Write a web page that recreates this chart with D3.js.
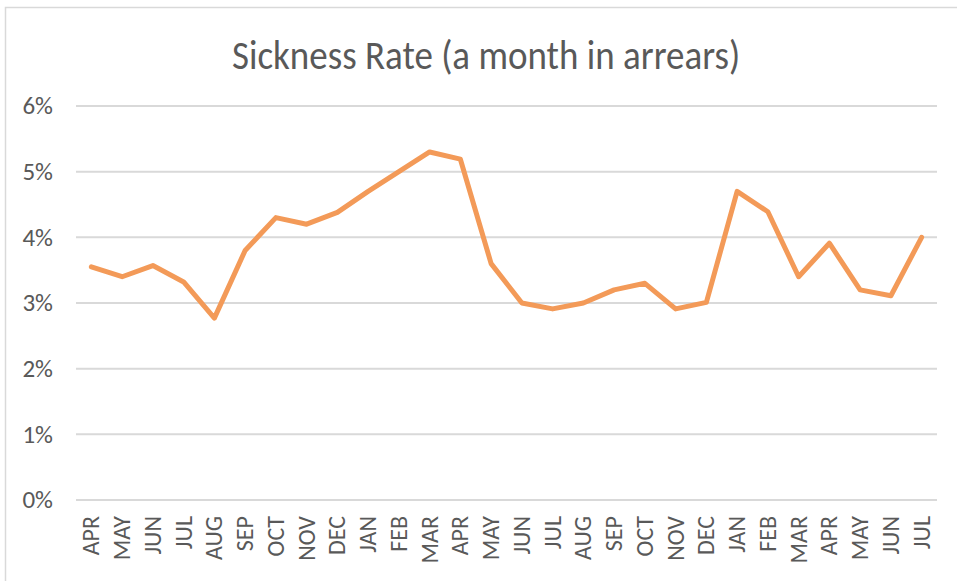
<!DOCTYPE html>
<html>
<head>
<meta charset="utf-8">
<script src="https://cdn.jsdelivr.net/npm/d3@7"></script>
<style>
  body { margin: 0; background: #fff; }
  text { font-family: Calibri, Carlito, "Open Sans", sans-serif; fill: #595959; }
</style>
</head>
<body>
<div id="chart"></div>
<script>
// data
var months = ["APR", "MAY", "JUN", "JUL", "AUG", "SEP", "OCT", "NOV", "DEC", "JAN", "FEB", "MAR", "APR", "MAY",
  "JUN", "JUL", "AUG", "SEP", "OCT", "NOV", "DEC", "JAN", "FEB", "MAR", "APR", "MAY", "JUN", "JUL"];
var rates = [3.55, 3.40, 3.57, 3.32, 2.77, 3.80, 4.30, 4.20, 4.38, 4.70, 5.00, 5.30, 5.19, 3.60,
  3.00, 2.91, 3.00, 3.20, 3.30, 2.91, 3.01, 4.70, 4.39, 3.40, 3.91, 3.20, 3.11, 4.00];
var yTicks = [0, 1, 2, 3, 4, 5, 6];

var width = 957, height = 581;
var margin = { top: 106, right: 20, bottom: 81, left: 76 };

var svg = d3.select("#chart").append("svg")
  .attr("width", width)
  .attr("height", height);

// chart border (only left / top visible in the picture)
svg.append("rect")
  .attr("x", 5.5).attr("y", 7.5)
  .attr("width", 1000).attr("height", 1000)
  .attr("fill", "none")
  .attr("stroke", "#d9d9d9")
  .attr("stroke-width", 1.5);

var x = d3.scaleBand()
  .domain(d3.range(months.length))
  .range([margin.left, width - margin.right]);

var y = d3.scaleLinear()
  .domain([0, 6])
  .range([height - margin.bottom, margin.top]);

// title (a bit taller than wide in the picture)
svg.append("text")
  .attr("transform", "translate(486,69) scale(1,1.12)")
  .attr("text-anchor", "middle")
  .style("font-size", "37px")
  .text("Sickness Rate (a month in arrears)");

// grid
svg.append("g")
  .selectAll("line")
  .data(yTicks)
  .enter().append("line")
  .attr("x1", margin.left)
  .attr("x2", width - margin.right)
  .attr("y1", function (d) { return y(d); })
  .attr("y2", function (d) { return y(d); })
  .attr("stroke", "#d9d9d9")
  .attr("stroke-width", 2);

// y labels
svg.append("g")
  .selectAll("text")
  .data(yTicks)
  .enter().append("text")
  .attr("x", 53)
  .attr("y", function (d) { return y(d); })
  .attr("dy", "0.33em")
  .attr("text-anchor", "end")
  .style("font-size", "25px")
  .text(function (d) { return d + "%"; });

// x labels
svg.append("g")
  .selectAll("text")
  .data(months)
  .enter().append("text")
  .attr("transform", function (d, i) {
    return "translate(" + (x(i) + x.bandwidth() / 2) + "," + 516 + ") rotate(-90)";
  })
  .attr("dy", "0.33em")
  .attr("text-anchor", "end")
  .style("font-size", "24px")
  .text(function (d) { return d; });

// line
var line = d3.line()
  .x(function (d, i) { return x(i) + x.bandwidth() / 2; })
  .y(function (d) { return y(d); });

svg.append("path")
  .datum(rates)
  .attr("d", line)
  .attr("fill", "none")
  .attr("stroke", "#f39a58")
  .attr("stroke-width", 5)
  .attr("stroke-linejoin", "round")
  .attr("stroke-linecap", "round");
</script>
</body>
</html>
